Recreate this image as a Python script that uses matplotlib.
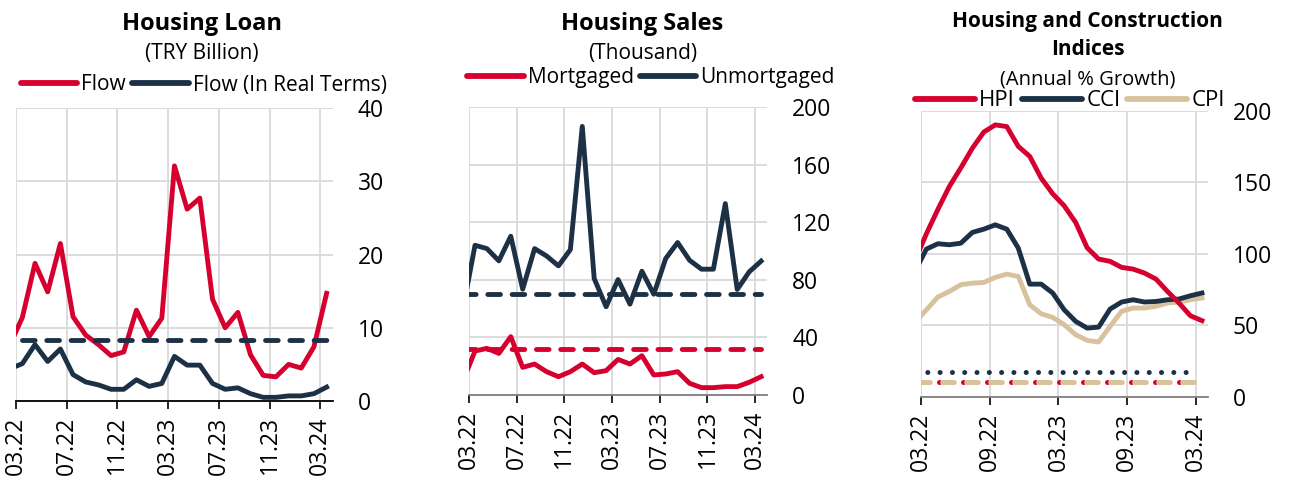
import numpy as np
import matplotlib
matplotlib.use("Agg")
import matplotlib.pyplot as plt
from matplotlib.lines import Line2D

plt.rcParams['font.family'] = ['Open Sans', 'DejaVu Sans']

# months 02.22 .. 03.24 (first one only feeds the clipped left edge)
months = ['02.22', '03.22', '04.22', '05.22', '06.22', '07.22', '08.22', '09.22', '10.22',
          '11.22', '12.22', '01.23', '02.23', '03.23', '04.23', '05.23', '06.23', '07.23',
          '08.23', '09.23', '10.23', '11.23', '12.23', '01.24', '02.24', '03.24']

# Housing loan (TRY billion)
loan_flow = [7.6, 11.4, 18.8, 14.9, 21.5, 11.5, 9.0, 7.7, 6.2, 6.7, 12.4, 8.8, 11.3,
             32.1, 26.2, 27.7, 13.9, 10.0, 12.1, 6.3, 3.5, 3.3, 5.0, 4.5, 7.4, 14.7]
loan_real = [4.4, 5.1, 7.7, 5.4, 7.1, 3.6, 2.6, 2.2, 1.6, 1.6, 2.9, 2.0, 2.4,
             6.1, 4.9, 4.9, 2.4, 1.6, 1.8, 1.0, 0.5, 0.5, 0.7, 0.7, 1.0, 1.9]
loan_real_avg = 8.3

# Housing sales (thousand)
sales_mort = [10, 30.5, 32.4, 28.9, 40.5, 19.2, 21.5, 16.2, 12.7, 16.2, 21.5, 15.5, 16.9,
              24.7, 21.5, 27.3, 13.9, 14.6, 16.2, 8.1, 5.1, 5.1, 5.8, 5.8, 8.8, 12.7]
sales_unmort = [60, 104, 101.7, 93.2, 110.3, 73.5, 101.7, 96.6, 89.7, 101, 186.6, 80.9, 61.3,
                80.2, 63.1, 86, 70, 94.8, 105.9, 93.6, 87.4, 87.4, 133, 73.3, 85.5, 93]
sales_mort_avg = 32
sales_unmort_avg = 70

# Housing and construction indices (annual % growth)
hpi = [95, 114, 131, 147, 160, 173.7, 185, 190, 188.8, 175, 168, 152.8, 141.9,
       133.5, 121.9, 104.2, 96.3, 94.7, 90.5, 89.3, 86.5, 82.3, 73.7, 65.6, 56.7, 53.3]
cci = [87.7, 103.3, 107, 106.3, 107.4, 114.9, 117.2, 120.2, 117.2, 104, 78.8, 78.8, 72.6,
       60.9, 52.8, 48.1, 48.8, 61.4, 66.3, 67.9, 66.3, 66.7, 67.9, 68.4, 70.7, 72.6]
cpi = [52, 60.9, 69.8, 73.7, 78.4, 79.5, 80, 83.5, 85.8, 84.2, 64.4, 58.1, 55.6,
       50.5, 43.5, 39.5, 38.4, 49.3, 59.8, 62.1, 62.1, 63.3, 65.6, 66.3, 67.9, 69.1]
hpi_avg = 10.2
cci_avg = 17.2
cpi_avg = 10.2

RED = '#D6002F'
NAVY = '#1C3146'
TAN = '#D8C29D'
GRID = '#D9D9D9'

x = np.arange(len(months)) - 1  # 03.22 -> 0
LW = 3.5
DASH = (0, (2.6, 2.4))

fig = plt.figure(figsize=(12.9, 4.79), dpi=100)
ax1 = fig.add_axes([0.0124, 0.1628, 0.2457, 0.6117])
ax2 = fig.add_axes([0.3636, 0.1754, 0.2310, 0.6010])
ax3 = fig.add_axes([0.7137, 0.1712, 0.2225, 0.5980])


def style(ax, ylim, yticks, step, spine_col):
    ax.set_xlim(-0.5, 24.5)
    ax.set_ylim(*ylim)
    ax.set_yticks(yticks)
    idx = list(range(1, len(months), step))
    ax.set_xticks([x[i] - 0.5 for i in idx])
    ax.set_xticklabels([months[i] for i in idx], rotation=90, fontsize=16.5)
    ax.yaxis.tick_right()
    ax.tick_params(axis='y', length=0, pad=18, labelsize=16.5)
    ax.tick_params(axis='x', length=6, width=1.2, color='black', pad=5, direction='out')
    for s in ['top', 'left', 'right']:
        ax.spines[s].set_visible(False)
    ax.spines['bottom'].set_color(spine_col)
    ax.spines['bottom'].set_linewidth(1.3)
    ax.grid(True, color=GRID, lw=1.3)
    ax.set_axisbelow(True)


# panel 1
ax1.plot(x, loan_flow, color=RED, lw=LW)
ax1.plot(x, loan_real, color=NAVY, lw=LW)
ax1.plot(x[1:], [loan_real_avg] * len(x[1:]), color=NAVY, lw=3.5,
         linestyle=DASH, dash_capstyle='round', zorder=3)
style(ax1, (0, 40), [0, 10, 20, 30, 40], 4, 'black')

# panel 2
ax2.plot(x, sales_unmort, color=NAVY, lw=LW)
ax2.plot(x, sales_mort, color=RED, lw=LW)
ax2.plot(x, [sales_unmort_avg] * len(x), color=NAVY, lw=3.5,
         linestyle=DASH, dash_capstyle='round', zorder=3)
ax2.plot(x, [sales_mort_avg] * len(x), color=RED, lw=3.5,
         linestyle=DASH, dash_capstyle='round', zorder=3)
style(ax2, (0, 200), [0, 40, 80, 120, 160, 200], 4, '#7F7F7F')

# panel 3
ax3.plot(x, cpi, color=TAN, lw=LW)
ax3.plot(x, cci, color=NAVY, lw=LW)
ax3.plot(x, hpi, color=RED, lw=LW)
ax3.plot(x[:-1], [cci_avg] * len(x[:-1]), color=NAVY, lw=3.6,
         linestyle=(0, (0.01, 2.45)), dash_capstyle='round')
ax3.plot(x, [hpi_avg] * len(x), color=RED, lw=3.6,
         linestyle=(0, (0.01, 4.79)), dash_capstyle='round')
ax3.plot(x, [cpi_avg] * len(x), color=TAN, lw=3.6,
         linestyle=(4.15, (2.3, 2.5)), dash_capstyle='round')
style(ax3, (0, 200), [0, 50, 100, 150, 200], 6, '#7F7F7F')


def ypos(px):
    return 1 - px / 479.0


# titles
fig.text(0.1566, ypos(30), 'Housing Loan', ha='center', va='baseline',
         fontsize=17, fontweight='bold')
fig.text(0.1566, ypos(59), '(TRY Billion)', ha='center', va='baseline', fontsize=15)
fig.text(0.498, ypos(30), 'Housing Sales', ha='center', va='baseline',
         fontsize=17, fontweight='bold')
fig.text(0.498, ypos(59), '(Thousand)', ha='center', va='baseline', fontsize=15)
fig.text(0.843, ypos(27), 'Housing and Construction', ha='center', va='baseline',
         fontsize=15, fontweight='bold')
fig.text(0.843, ypos(55), 'Indices', ha='center', va='baseline',
         fontsize=15, fontweight='bold')
fig.text(0.843, ypos(85), '(Annual % Growth)', ha='center', va='baseline', fontsize=14.5)


def leg(labels, cols, cx, cy, fs):
    handles = [Line2D([], [], color=c, lw=4.2, solid_capstyle='round') for c in cols]
    fig.legend(handles, labels, loc='center', bbox_to_anchor=(cx, cy), ncol=len(labels),
               frameon=False, fontsize=fs, handlelength=2.7, handletextpad=0.2,
               columnspacing=0.3, borderpad=0, borderaxespad=0)


leg(['Flow', 'Flow (In Real Terms)'], [RED, NAVY], 0.158, ypos(85), 15)
leg(['Mortgaged', 'Unmortgaged'], [RED, NAVY], 0.5047, ypos(78), 15)
leg(['HPI', 'CCI', 'CPI'], [RED, NAVY, TAN], 0.8295, ypos(101), 16)

fig.savefig('out.png', dpi=100)
